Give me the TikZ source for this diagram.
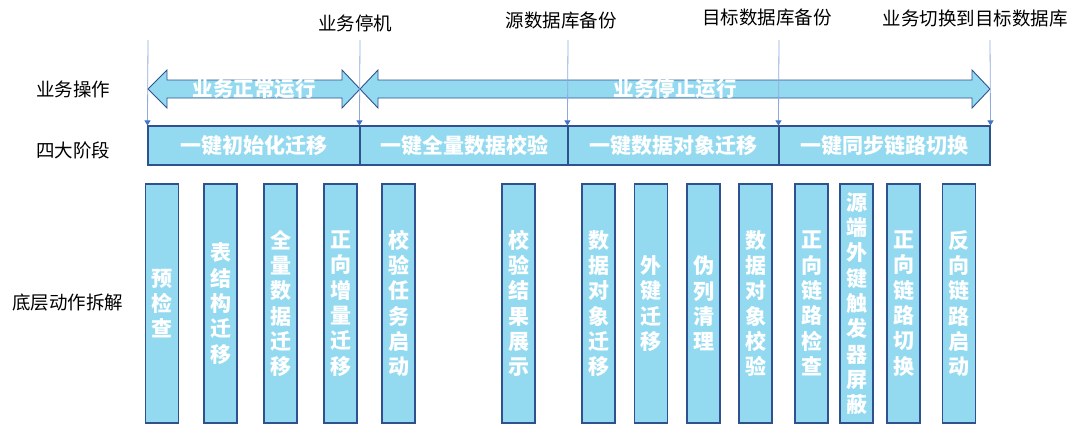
\documentclass[tikz,border=0pt]{standalone}
\usepackage{fontspec}
\setmainfont{Noto Sans CJK SC}
\usetikzlibrary{arrows.meta}
\definecolor{boxfill}{HTML}{93DAF1}
\definecolor{boxline}{HTML}{2F528F}
\definecolor{markline}{HTML}{8FAADC}
\definecolor{marktip}{HTML}{4472C4}
\tikzset{
  phase/.style={draw=boxline, line width=1.1pt, fill=boxfill, text=white, inner sep=0pt,
    minimum height=39pt, font=\bfseries\fontsize{21}{24}\selectfont},
  act/.style={draw=boxline, line width=1.1pt, fill=boxfill, text=white, inner sep=0pt,
    minimum width=33pt, minimum height=239pt, align=center,
    font=\bfseries\fontsize{21}{25.3}\selectfont},
  oper/.style={draw=boxline, line width=0.9pt, fill=boxfill},
  msline/.style={draw=markline, line width=0.8pt, -{Triangle[length=5pt,width=6pt,fill=marktip,color=marktip]}},
  lbl/.style={font=\fontsize{18.5}{22}\selectfont}
}
\begin{document}
\begin{tikzpicture}[x=1pt,y=-1pt]
\useasboundingbox (0,0) rectangle (1080,432);
% row labels
\node[lbl] (row0) at (73,89){业务操作};
\node[lbl] (row1) at (73,150){四大阶段};
\node[lbl] (row2) at (68,303){底层动作拆解};
% business operation arrows
\draw[oper] (148,89) -- (167,70) -- (167,80) -- (342,80) -- (342,70) -- (360,89)
  -- (342,108) -- (342,98) -- (167,98) -- (167,108) -- cycle;
\draw[oper] (360,89) -- (378,70) -- (378,80) -- (972,80) -- (972,70) -- (990,89)
  -- (972,108) -- (972,98) -- (378,98) -- (378,108) -- cycle;
\node[text=white, font=\bfseries\fontsize{20.5}{24}\selectfont] (op0) at (254,89){业务正常运行};
\node[text=white, font=\bfseries\fontsize{20.5}{24}\selectfont] (op1) at (675,89){业务停止运行};
% four phases
\node[phase, minimum width=212pt] (ph0) at (254,145.5){一键初始化迁移};
\node[phase, minimum width=208pt] (ph1) at (464,145.5){一键全量数据校验};
\node[phase, minimum width=211pt] (ph2) at (673.5,145.5){一键数据对象迁移};
\node[phase, minimum width=211pt] (ph3) at (884.5,145.5){一键同步链路切换};
% milestones
\node[lbl] (ms1) at (355,23){业务停机};
\node[lbl] (ms2) at (561,20){源数据库备份};
\node[lbl] (ms3) at (767,17){目标数据库备份};
\node[lbl] (ms4) at (975,18){业务切换到目标数据库};
\coordinate (mt0) at (148,40);
\coordinate (mt1) at (360,40);
\coordinate (mt2) at (568,40);
\coordinate (mt3) at (779,40);
\coordinate (mt4) at (990,40);
\draw[msline] (mt0) -- (ph0.north west);
\draw[msline] (mt1) -- (ph1.north west);
\draw[msline] (mt2) -- (ph2.north west);
\draw[msline] (mt3) -- (ph3.north west);
\draw[msline] (mt4) -- (ph3.north east);
% actions
\node[act] (act1) at (162,303.5){预\\检\\查};
\node[act] (act2) at (220.5,303.5){表\\结\\构\\迁\\移};
\node[act] (act3) at (280.5,303.5){全\\量\\数\\据\\迁\\移};
\node[act] (act4) at (340.5,303.5){正\\向\\增\\量\\迁\\移};
\node[act] (act5) at (398.5,303.5){校\\验\\任\\务\\启\\动};
\node[act] (act6) at (518.5,303.5){校\\验\\结\\果\\展\\示};
\node[act] (act7) at (598.5,303.5){数\\据\\对\\象\\迁\\移};
\node[act] (act8) at (651,303.5){外\\键\\迁\\移};
\node[act] (act9) at (703.5,303.5){伪\\列\\清\\理};
\node[act] (act10) at (755.5,303.5){数\\据\\对\\象\\校\\验};
\node[act] (act11) at (811.5,303.5){正\\向\\链\\路\\检\\查};
\node[act] (act12) at (856.5,303.5){源\\端\\外\\键\\触\\发\\器\\屏\\蔽};
\node[act] (act13) at (903.5,303.5){正\\向\\链\\路\\切\\换};
\node[act] (act14) at (959,303.5){反\\向\\链\\路\\启\\动};
\end{tikzpicture}
\end{document}
